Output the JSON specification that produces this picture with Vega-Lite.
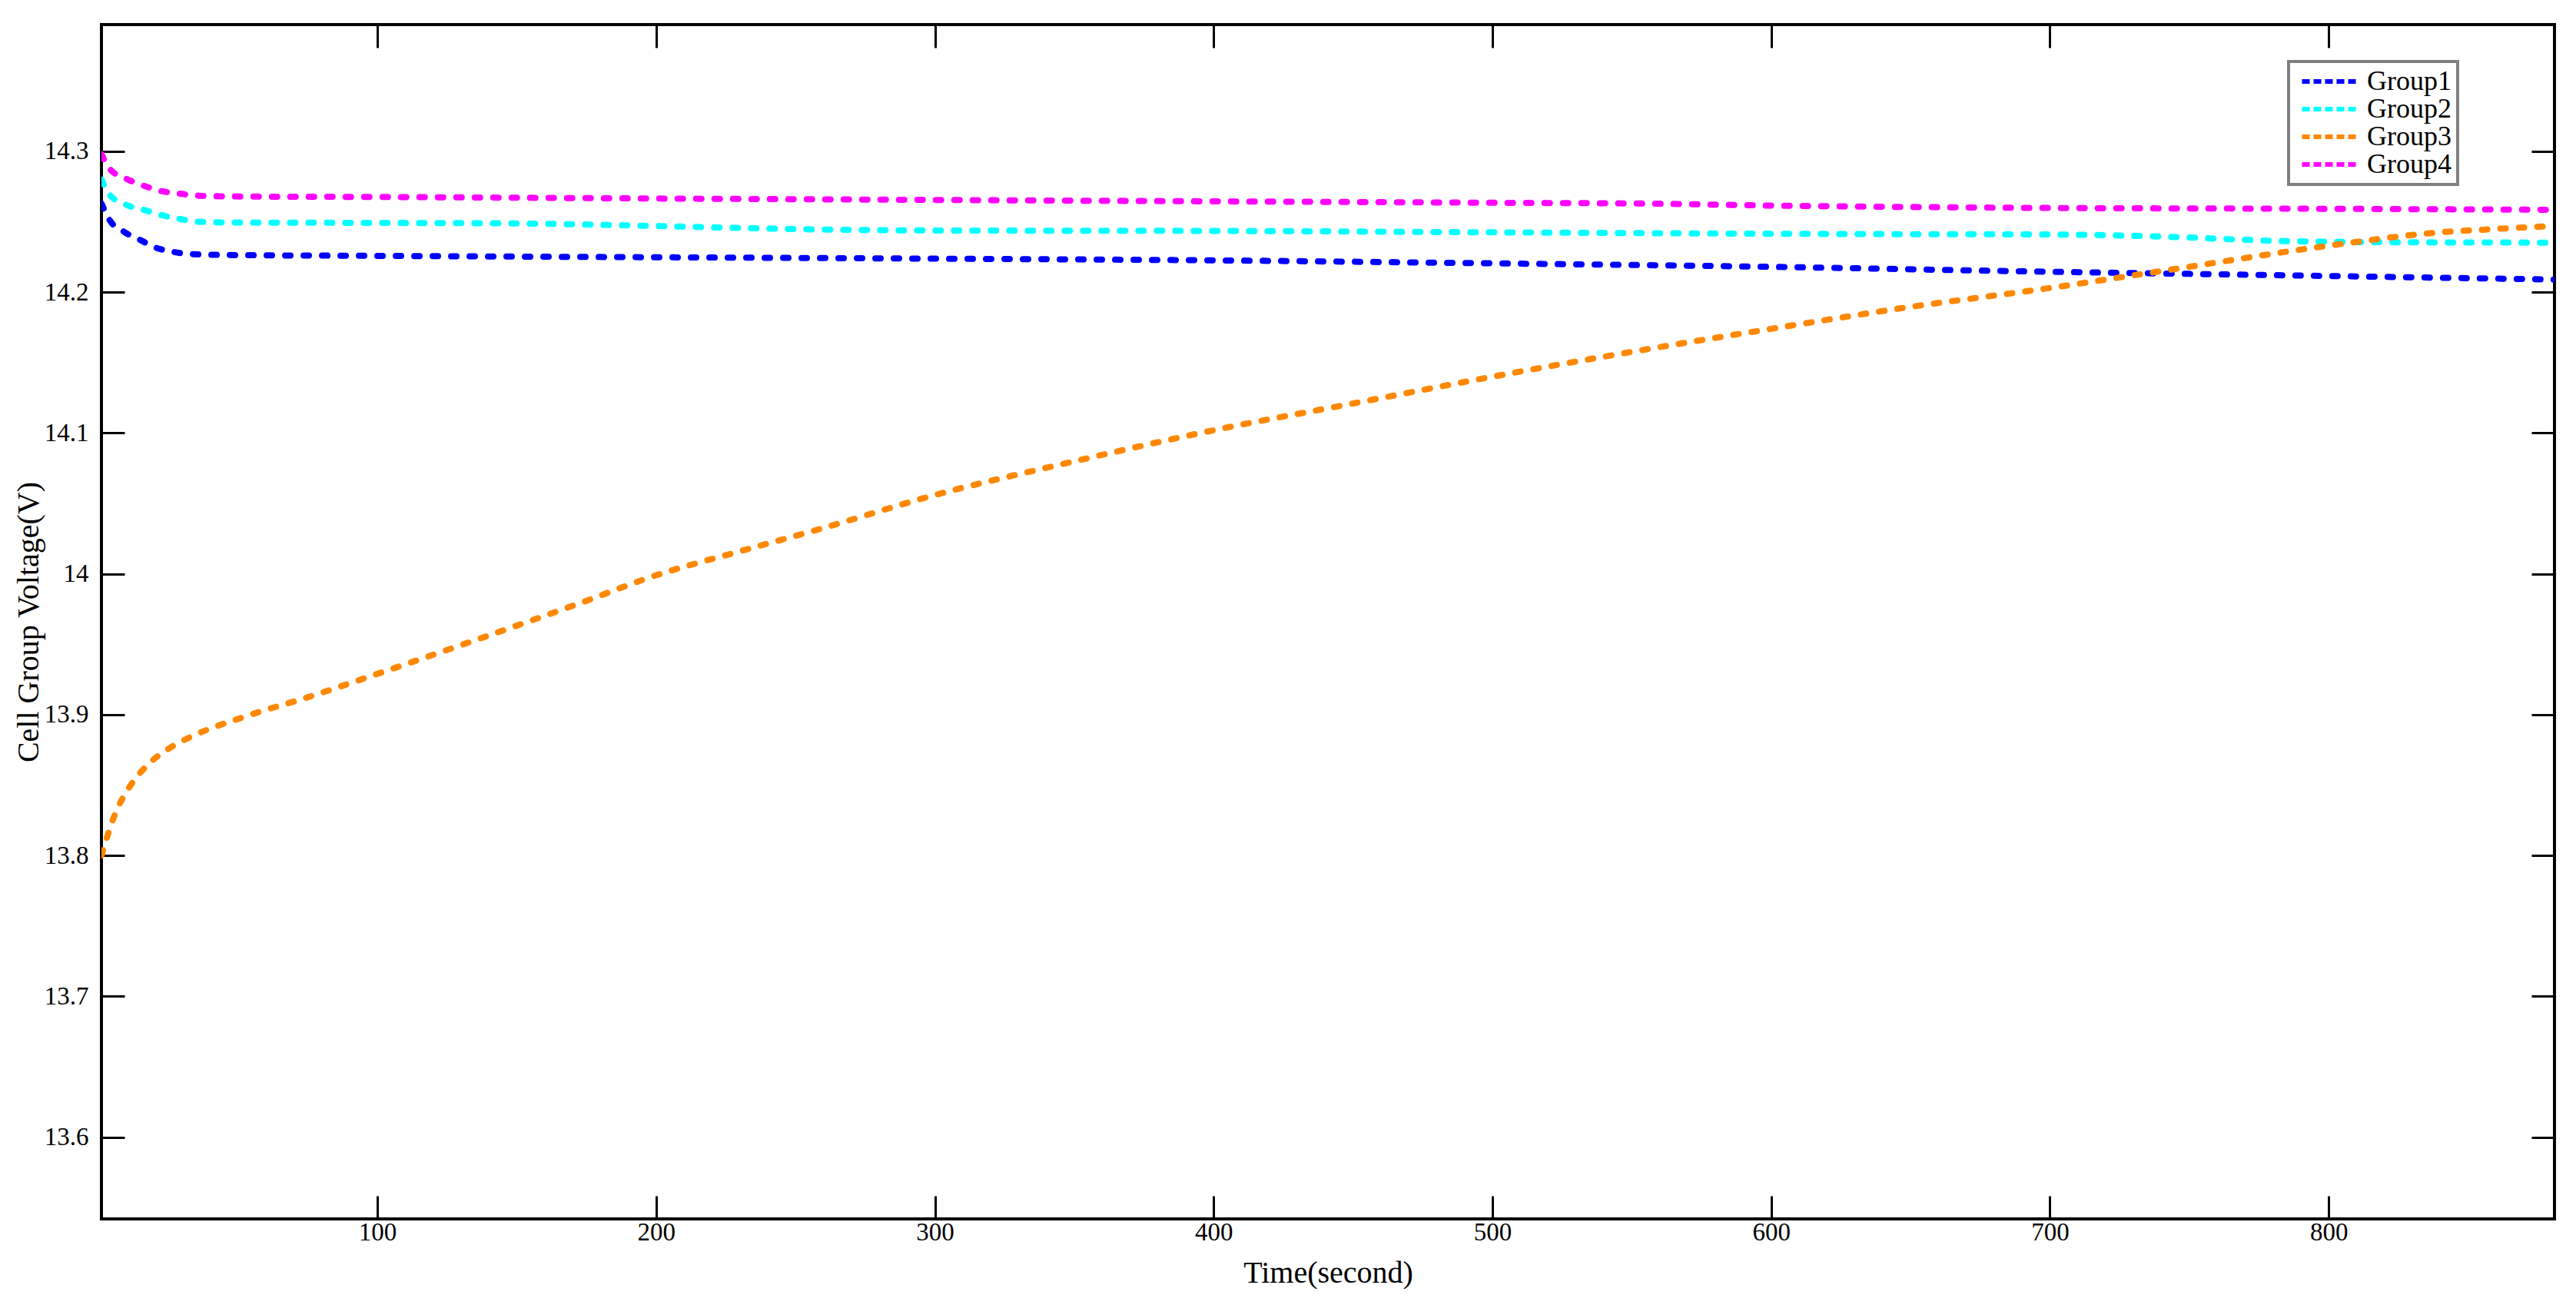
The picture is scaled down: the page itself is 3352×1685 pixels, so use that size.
{
  "$schema": "https://vega.github.io/schema/vega-lite/v6.json",
  "width": 3192,
  "height": 1554,
  "autosize": {"type": "none"},
  "padding": {"left": 132, "top": 32, "right": 28, "bottom": 99},
  "background": "white",
  "config": {
    "font": "Liberation Serif",
    "view": {"stroke": "#000000", "strokeWidth": 4},
    "axis": {
      "domain": false,
      "grid": false,
      "tickColor": "#000000",
      "tickWidth": 3,
      "tickSize": -30,
      "labelFont": "Liberation Serif",
      "labelFontSize": 33,
      "labelColor": "#000000",
      "titleFont": "Liberation Serif",
      "titleFontSize": 40,
      "titleFontWeight": "normal",
      "titleColor": "#000000"
    },
    "legend": {
      "orient": "none",
      "legendX": 2846,
      "legendY": 48,
      "symbolType": "M-2.5,0H2.5",
      "symbolSize": 900,
      "symbolStrokeWidth": 6,
      "symbolDash": [10, 5],
      "labelFont": "Liberation Serif",
      "labelFontSize": 36,
      "labelColor": "#000000",
      "labelOffset": 29,
      "symbolOffset": 29,
      "strokeColor": "#808080",
      "strokeWidth": 4,
      "fillColor": "#ffffff",
      "padding": 8,
      "rowPadding": 0
    }
  },
  "data": {
    "values": [
      {"group": "Group1", "t": 1, "v": 14.263},
      {"group": "Group1", "t": 4, "v": 14.251},
      {"group": "Group1", "t": 9, "v": 14.243},
      {"group": "Group1", "t": 15, "v": 14.237},
      {"group": "Group1", "t": 20, "v": 14.232},
      {"group": "Group1", "t": 27, "v": 14.2285},
      {"group": "Group1", "t": 34, "v": 14.227},
      {"group": "Group1", "t": 47, "v": 14.2264},
      {"group": "Group1", "t": 100, "v": 14.2258},
      {"group": "Group1", "t": 200, "v": 14.2248},
      {"group": "Group1", "t": 300, "v": 14.2238},
      {"group": "Group1", "t": 400, "v": 14.2226},
      {"group": "Group1", "t": 500, "v": 14.2205},
      {"group": "Group1", "t": 600, "v": 14.218},
      {"group": "Group1", "t": 700, "v": 14.2145},
      {"group": "Group1", "t": 750, "v": 14.213},
      {"group": "Group1", "t": 800, "v": 14.2115},
      {"group": "Group1", "t": 881, "v": 14.209},
      {"group": "Group2", "t": 1, "v": 14.28},
      {"group": "Group2", "t": 4, "v": 14.269},
      {"group": "Group2", "t": 10, "v": 14.262},
      {"group": "Group2", "t": 17, "v": 14.258},
      {"group": "Group2", "t": 22, "v": 14.255},
      {"group": "Group2", "t": 29, "v": 14.252},
      {"group": "Group2", "t": 36, "v": 14.25},
      {"group": "Group2", "t": 47, "v": 14.2495},
      {"group": "Group2", "t": 100, "v": 14.2492},
      {"group": "Group2", "t": 150, "v": 14.2488},
      {"group": "Group2", "t": 200, "v": 14.247},
      {"group": "Group2", "t": 250, "v": 14.2448},
      {"group": "Group2", "t": 300, "v": 14.2438},
      {"group": "Group2", "t": 400, "v": 14.2435},
      {"group": "Group2", "t": 500, "v": 14.2425},
      {"group": "Group2", "t": 600, "v": 14.2415},
      {"group": "Group2", "t": 650, "v": 14.2412},
      {"group": "Group2", "t": 700, "v": 14.241},
      {"group": "Group2", "t": 740, "v": 14.2395},
      {"group": "Group2", "t": 780, "v": 14.2365},
      {"group": "Group2", "t": 820, "v": 14.2355},
      {"group": "Group2", "t": 881, "v": 14.2352},
      {"group": "Group3", "t": 1, "v": 13.8},
      {"group": "Group3", "t": 5.6, "v": 13.828},
      {"group": "Group3", "t": 11.5, "v": 13.85},
      {"group": "Group3", "t": 17.4, "v": 13.864},
      {"group": "Group3", "t": 26, "v": 13.877},
      {"group": "Group3", "t": 35, "v": 13.886},
      {"group": "Group3", "t": 53, "v": 13.899},
      {"group": "Group3", "t": 76, "v": 13.913},
      {"group": "Group3", "t": 100, "v": 13.929},
      {"group": "Group3", "t": 141, "v": 13.957},
      {"group": "Group3", "t": 171, "v": 13.978},
      {"group": "Group3", "t": 200, "v": 13.999},
      {"group": "Group3", "t": 230, "v": 14.016},
      {"group": "Group3", "t": 259, "v": 14.032},
      {"group": "Group3", "t": 300, "v": 14.056},
      {"group": "Group3", "t": 348, "v": 14.079},
      {"group": "Group3", "t": 400, "v": 14.102},
      {"group": "Group3", "t": 450, "v": 14.121},
      {"group": "Group3", "t": 500, "v": 14.14},
      {"group": "Group3", "t": 554, "v": 14.159},
      {"group": "Group3", "t": 600, "v": 14.174},
      {"group": "Group3", "t": 648, "v": 14.189},
      {"group": "Group3", "t": 700, "v": 14.203},
      {"group": "Group3", "t": 740, "v": 14.215},
      {"group": "Group3", "t": 800, "v": 14.233},
      {"group": "Group3", "t": 837, "v": 14.242},
      {"group": "Group3", "t": 861, "v": 14.245},
      {"group": "Group3", "t": 881, "v": 14.247},
      {"group": "Group4", "t": 1, "v": 14.298},
      {"group": "Group4", "t": 4, "v": 14.2875},
      {"group": "Group4", "t": 10, "v": 14.2805},
      {"group": "Group4", "t": 17, "v": 14.275},
      {"group": "Group4", "t": 22, "v": 14.272},
      {"group": "Group4", "t": 29, "v": 14.27},
      {"group": "Group4", "t": 36, "v": 14.2685},
      {"group": "Group4", "t": 47, "v": 14.268},
      {"group": "Group4", "t": 100, "v": 14.2676},
      {"group": "Group4", "t": 200, "v": 14.2665},
      {"group": "Group4", "t": 300, "v": 14.2655},
      {"group": "Group4", "t": 400, "v": 14.2645},
      {"group": "Group4", "t": 500, "v": 14.2635},
      {"group": "Group4", "t": 560, "v": 14.2628},
      {"group": "Group4", "t": 600, "v": 14.2615},
      {"group": "Group4", "t": 650, "v": 14.2605},
      {"group": "Group4", "t": 700, "v": 14.2598},
      {"group": "Group4", "t": 800, "v": 14.2592},
      {"group": "Group4", "t": 881, "v": 14.2585}
    ]
  },
  "layer": [
    {
      "mark": {"type": "line", "interpolate": "monotone", "strokeWidth": 8, "strokeCap": "round", "strokeDash": [7, 17], "clip": true},
      "encoding": {
        "x": {
          "field": "t", "type": "quantitative",
          "scale": {"domain": [1, 881], "nice": false, "zero": false},
          "axis": {"orient": "bottom", "values": [100, 200, 300, 400, 500, 600, 700, 800], "labelPadding": 31, "title": "Time(second)", "titlePadding": 16}
        },
        "y": {
          "field": "v", "type": "quantitative",
          "scale": {"domain": [13.542, 14.39], "nice": false, "zero": false},
          "axis": {"orient": "left", "values": [13.6, 13.7, 13.8, 13.9, 14, 14.1, 14.2, 14.3], "format": ".1~f", "labelPadding": 47, "title": "Cell Group Voltage(V)", "titlePadding": 0}
        },
        "color": {
          "field": "group", "type": "nominal",
          "scale": {"domain": ["Group1", "Group2", "Group3", "Group4"], "range": ["#0000FF", "#00FFFF", "#FF8800", "#FF00FF"]},
          "legend": {"title": null}
        }
      }
    },
    {
      "mark": {"type": "line", "strokeOpacity": 0},
      "encoding": {
        "x": {
          "field": "t", "type": "quantitative",
          "axis": {"orient": "top", "values": [100, 200, 300, 400, 500, 600, 700, 800], "labels": false, "title": null}
        },
        "y": {
          "field": "v", "type": "quantitative",
          "axis": {"orient": "right", "values": [13.6, 13.7, 13.8, 13.9, 14, 14.1, 14.2, 14.3], "labels": false, "title": null}
        },
        "detail": {"field": "group", "type": "nominal"}
      }
    }
  ],
  "resolve": {"axis": {"x": "independent", "y": "independent"}}
}
